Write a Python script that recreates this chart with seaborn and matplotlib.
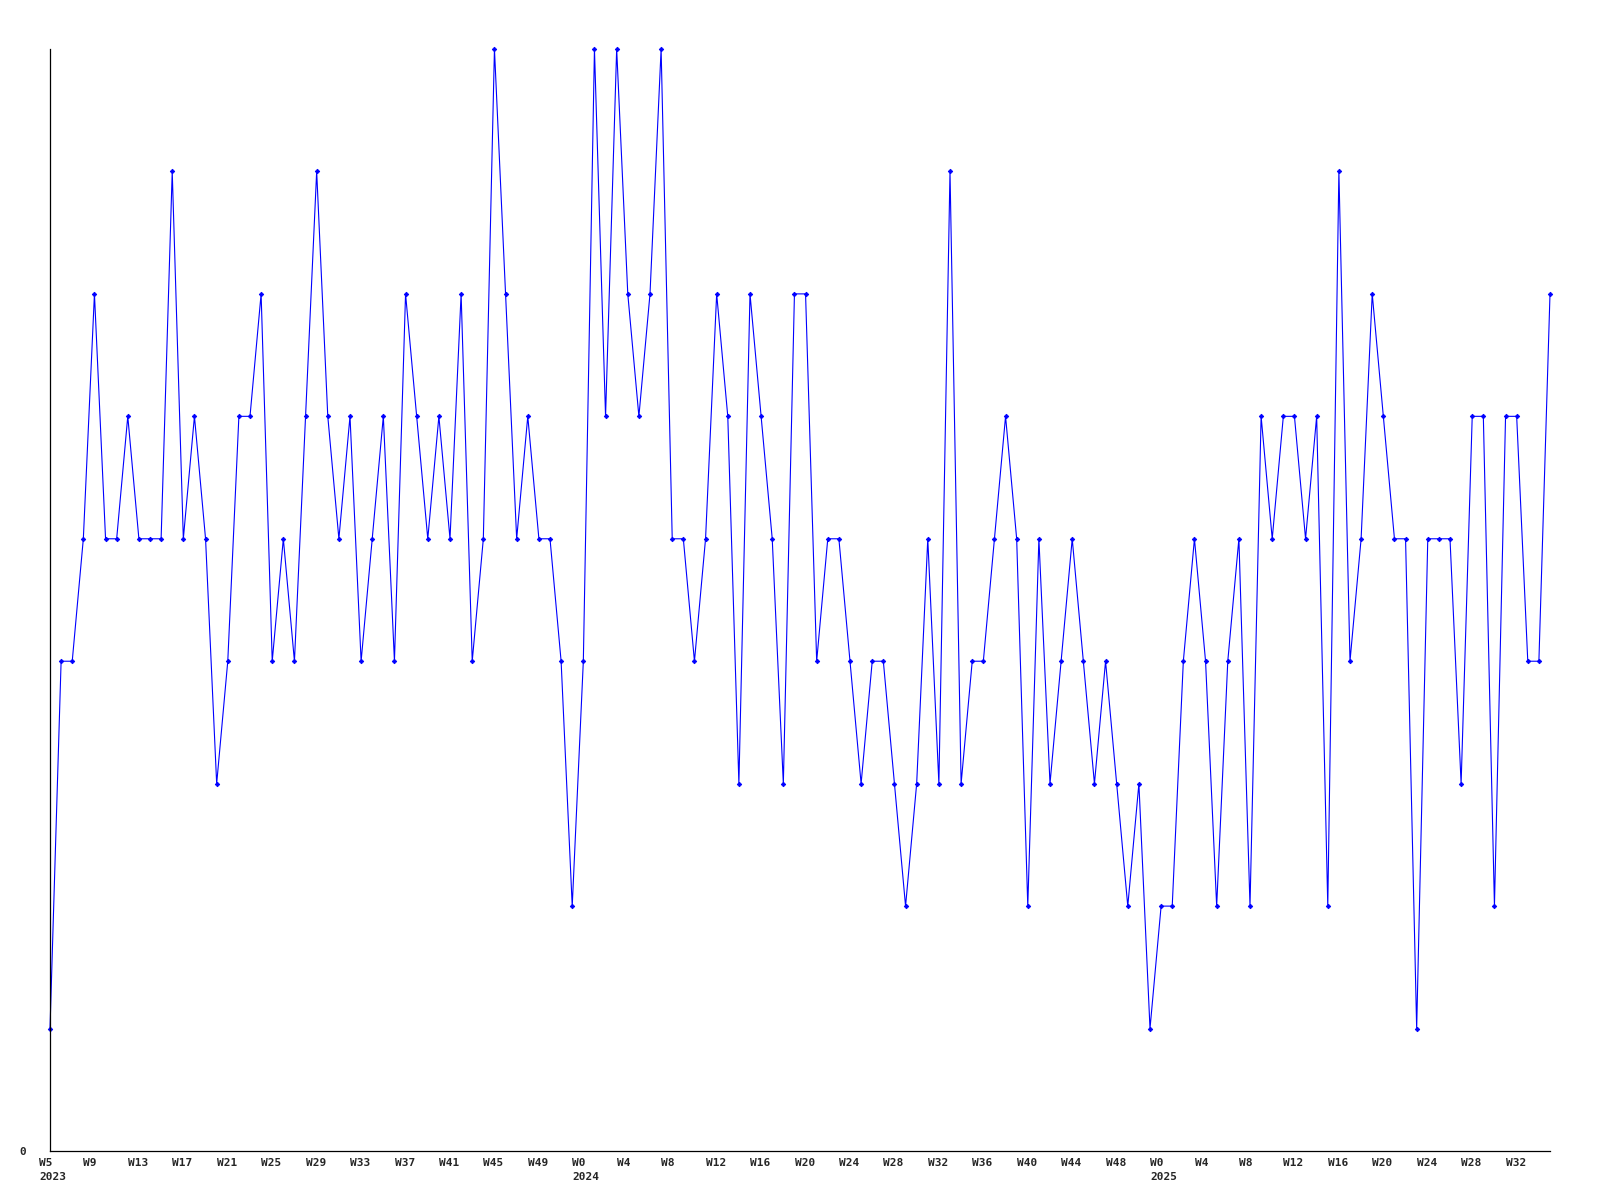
import matplotlib
matplotlib.use("Agg")
import matplotlib.pyplot as plt
import matplotlib.transforms as mtransforms
import pandas as pd
import seaborn as sns

# weekly counts
counts_2023 = [1, 4, 4, 5, 7, 5, 5, 6, 5, 5, 5, 8, 5, 6, 5, 3, 4, 6, 6, 7,
               4, 5, 4, 6, 8, 6, 5, 6, 4, 5, 6, 4, 7, 6, 5, 6, 5, 7, 4, 5,
               9, 7, 5, 6, 5, 5, 4, 2]          # W5 .. W52
counts_2024 = [4, 9, 6, 9, 7, 6, 7, 9, 5, 5, 4, 5, 7, 6, 3, 7, 6, 5, 3, 7,
               7, 4, 5, 5, 4, 3, 4, 4, 3, 2, 3, 5, 3, 8, 3, 4, 4, 5, 6, 5,
               2, 5, 3, 4, 5, 4, 3, 4, 3, 2, 3, 1]  # W0 .. W51
counts_2025 = [2, 2, 4, 5, 4, 2, 4, 5, 2, 6, 5, 6, 6, 5, 6, 2, 8, 4, 5, 7,
               6, 5, 5, 1, 5, 5, 5, 3, 6, 6, 2, 6, 6, 4, 4, 7]  # W0 .. W35

tick_labels = ["W5\n2023", "W9", "W13", "W17", "W21", "W25", "W29", "W33",
               "W37", "W41", "W45", "W49",
               "W0\n2024", "W4", "W8", "W12", "W16", "W20", "W24", "W28",
               "W32", "W36", "W40", "W44", "W48",
               "W0\n2025", "W4", "W8", "W12", "W16", "W20", "W24", "W28", "W32"]

values = counts_2023 + counts_2024 + counts_2025
df = pd.DataFrame({"pos": range(len(values)), "count": values})

sns.set_style("white")
plt.rcParams["font.family"] = ["DejaVu Sans Mono", "DejaVu Sans"]

fig = plt.figure(figsize=(16, 12), dpi=100)
ax = fig.add_axes([50 / 1600, 49 / 1200, 1500 / 1600, 1102 / 1200])

sns.lineplot(data=df, x="pos", y="count", ax=ax, color="#0000ff",
             linewidth=0.8, marker="D", markersize=2.3, markeredgewidth=0.6,
             markeredgecolor="#0000ff", clip_on=False)

ax.set_xlim(0, len(values) - 1)
ax.set_ylim(0, 9)
ax.set_xlabel("")
ax.set_ylabel("")

for side in ["top", "right"]:
    ax.spines[side].set_visible(False)
for side in ["left", "bottom"]:
    ax.spines[side].set_color("black")
    ax.spines[side].set_linewidth(0.9)

ax.set_yticks([0])
ax.set_yticklabels(["0"], fontsize=8, fontweight="bold")
ax.tick_params(axis="y", length=0, pad=17)

ax.set_xticks(range(0, len(values), 4))
ax.set_xticklabels(tick_labels, fontsize=8, fontweight="bold",
                   ha="left", linespacing=1.45)
ax.tick_params(axis="x", length=0, pad=5)
shift = mtransforms.ScaledTranslation(-11 / 100, 0, fig.dpi_scale_trans)
for lab in ax.get_xticklabels():
    lab.set_transform(lab.get_transform() + shift)

fig.savefig("out.png", dpi=100)
